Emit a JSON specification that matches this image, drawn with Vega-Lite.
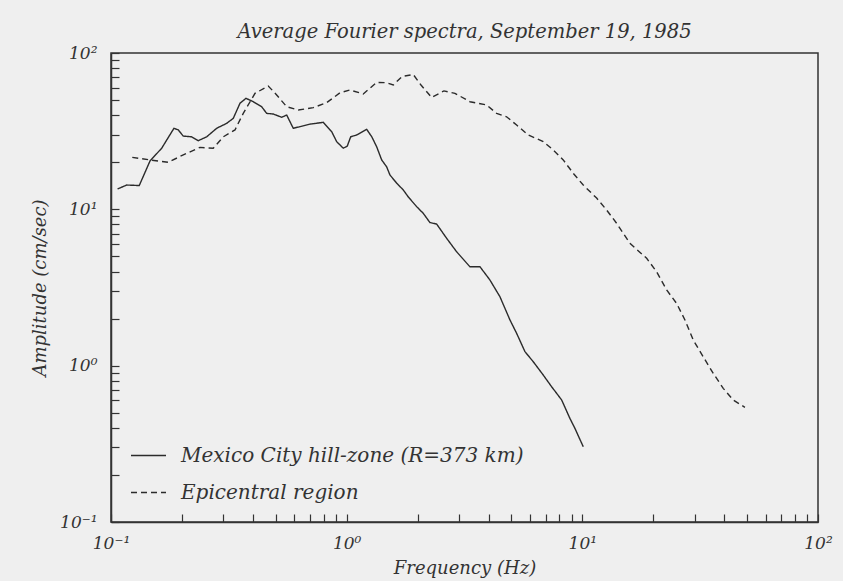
{
  "$schema": "https://vega.github.io/schema/vega-lite/v6.json",
  "width": 707,
  "height": 469,
  "autosize": {"type": "none"},
  "padding": {"left": 111, "top": 53, "right": 25, "bottom": 59},
  "background": "#efefef",
  "config": {
    "view": {"stroke": "#333333", "strokeWidth": 1.5},
    "font": "DejaVu Serif",
    "axis": {
      "grid": false,
      "domainColor": "#333333",
      "domainWidth": 1.5,
      "tickColor": "#333333",
      "tickWidth": 1.2,
      "tickSize": -8,
      "labelFont": "DejaVu Serif",
      "labelFontStyle": "italic",
      "labelFontSize": 17,
      "labelColor": "#333333",
      "labelOverlap": false,
      "labelFlush": false,
      "titleFont": "DejaVu Serif",
      "titleFontStyle": "italic",
      "titleFontWeight": "normal",
      "titleFontSize": 18,
      "titleColor": "#333333"
    }
  },
  "title": {
    "text": "Average Fourier spectra, September 19, 1985",
    "font": "DejaVu Serif",
    "fontStyle": "italic",
    "fontWeight": "normal",
    "fontSize": 19.5,
    "color": "#333333",
    "offset": 2
  },
  "data": {
    "values": [
      {"series": "Mexico City hill-zone (R=373 km)", "freq": 0.1066, "amp": 13.5},
      {"series": "Mexico City hill-zone (R=373 km)", "freq": 0.1166, "amp": 14.3},
      {"series": "Mexico City hill-zone (R=373 km)", "freq": 0.1318, "amp": 14.2},
      {"series": "Mexico City hill-zone (R=373 km)", "freq": 0.1464, "amp": 20.4},
      {"series": "Mexico City hill-zone (R=373 km)", "freq": 0.1641, "amp": 24.6},
      {"series": "Mexico City hill-zone (R=373 km)", "freq": 0.185, "amp": 33.0},
      {"series": "Mexico City hill-zone (R=373 km)", "freq": 0.193, "amp": 32.2},
      {"series": "Mexico City hill-zone (R=373 km)", "freq": 0.2026, "amp": 29.4},
      {"series": "Mexico City hill-zone (R=373 km)", "freq": 0.22, "amp": 29.1},
      {"series": "Mexico City hill-zone (R=373 km)", "freq": 0.2347, "amp": 27.5},
      {"series": "Mexico City hill-zone (R=373 km)", "freq": 0.2547, "amp": 29.1},
      {"series": "Mexico City hill-zone (R=373 km)", "freq": 0.2809, "amp": 33.0},
      {"series": "Mexico City hill-zone (R=373 km)", "freq": 0.3097, "amp": 35.5},
      {"series": "Mexico City hill-zone (R=373 km)", "freq": 0.3303, "amp": 38.2},
      {"series": "Mexico City hill-zone (R=373 km)", "freq": 0.3526, "amp": 47.7},
      {"series": "Mexico City hill-zone (R=373 km)", "freq": 0.3739, "amp": 51.3},
      {"series": "Mexico City hill-zone (R=373 km)", "freq": 0.4016, "amp": 48.8},
      {"series": "Mexico City hill-zone (R=373 km)", "freq": 0.4359, "amp": 45.3},
      {"series": "Mexico City hill-zone (R=373 km)", "freq": 0.4577, "amp": 41.1},
      {"series": "Mexico City hill-zone (R=373 km)", "freq": 0.4883, "amp": 40.7},
      {"series": "Mexico City hill-zone (R=373 km)", "freq": 0.53, "amp": 38.8},
      {"series": "Mexico City hill-zone (R=373 km)", "freq": 0.5566, "amp": 40.1},
      {"series": "Mexico City hill-zone (R=373 km)", "freq": 0.5934, "amp": 33.0},
      {"series": "Mexico City hill-zone (R=373 km)", "freq": 0.6337, "amp": 33.8},
      {"series": "Mexico City hill-zone (R=373 km)", "freq": 0.6987, "amp": 35.1},
      {"series": "Mexico City hill-zone (R=373 km)", "freq": 0.7957, "amp": 36.0},
      {"series": "Mexico City hill-zone (R=373 km)", "freq": 0.8637, "amp": 31.4},
      {"series": "Mexico City hill-zone (R=373 km)", "freq": 0.9071, "amp": 27.1},
      {"series": "Mexico City hill-zone (R=373 km)", "freq": 0.9674, "amp": 24.6},
      {"series": "Mexico City hill-zone (R=373 km)", "freq": 1.006, "amp": 25.4},
      {"series": "Mexico City hill-zone (R=373 km)", "freq": 1.04, "amp": 29.1},
      {"series": "Mexico City hill-zone (R=373 km)", "freq": 1.103, "amp": 29.9},
      {"series": "Mexico City hill-zone (R=373 km)", "freq": 1.216, "amp": 32.5},
      {"series": "Mexico City hill-zone (R=373 km)", "freq": 1.28, "amp": 29.0},
      {"series": "Mexico City hill-zone (R=373 km)", "freq": 1.341, "amp": 25.1},
      {"series": "Mexico City hill-zone (R=373 km)", "freq": 1.408, "amp": 20.7},
      {"series": "Mexico City hill-zone (R=373 km)", "freq": 1.478, "amp": 18.7},
      {"series": "Mexico City hill-zone (R=373 km)", "freq": 1.526, "amp": 16.6},
      {"series": "Mexico City hill-zone (R=373 km)", "freq": 1.63, "amp": 14.7},
      {"series": "Mexico City hill-zone (R=373 km)", "freq": 1.739, "amp": 13.3},
      {"series": "Mexico City hill-zone (R=373 km)", "freq": 1.826, "amp": 12.0},
      {"series": "Mexico City hill-zone (R=373 km)", "freq": 1.982, "amp": 10.4},
      {"series": "Mexico City hill-zone (R=373 km)", "freq": 2.113, "amp": 9.43},
      {"series": "Mexico City hill-zone (R=373 km)", "freq": 2.256, "amp": 8.23},
      {"series": "Mexico City hill-zone (R=373 km)", "freq": 2.409, "amp": 8.05},
      {"series": "Mexico City hill-zone (R=373 km)", "freq": 2.657, "amp": 6.52},
      {"series": "Mexico City hill-zone (R=373 km)", "freq": 2.929, "amp": 5.35},
      {"series": "Mexico City hill-zone (R=373 km)", "freq": 3.336, "amp": 4.29},
      {"series": "Mexico City hill-zone (R=373 km)", "freq": 3.679, "amp": 4.29},
      {"series": "Mexico City hill-zone (R=373 km)", "freq": 4.055, "amp": 3.53},
      {"series": "Mexico City hill-zone (R=373 km)", "freq": 4.471, "amp": 2.76},
      {"series": "Mexico City hill-zone (R=373 km)", "freq": 4.931, "amp": 1.96},
      {"series": "Mexico City hill-zone (R=373 km)", "freq": 5.263, "amp": 1.61},
      {"series": "Mexico City hill-zone (R=373 km)", "freq": 5.708, "amp": 1.23},
      {"series": "Mexico City hill-zone (R=373 km)", "freq": 6.19, "amp": 1.06},
      {"series": "Mexico City hill-zone (R=373 km)", "freq": 6.826, "amp": 0.871},
      {"series": "Mexico City hill-zone (R=373 km)", "freq": 7.41, "amp": 0.733},
      {"series": "Mexico City hill-zone (R=373 km)", "freq": 8.172, "amp": 0.603},
      {"series": "Mexico City hill-zone (R=373 km)", "freq": 8.857, "amp": 0.46},
      {"series": "Mexico City hill-zone (R=373 km)", "freq": 9.303, "amp": 0.397},
      {"series": "Mexico City hill-zone (R=373 km)", "freq": 10.09, "amp": 0.303},
      {"series": "Epicentral region", "freq": 0.1231, "amp": 21.5},
      {"series": "Epicentral region", "freq": 0.1464, "amp": 20.7},
      {"series": "Epicentral region", "freq": 0.175, "amp": 20.0},
      {"series": "Epicentral region", "freq": 0.2026, "amp": 22.3},
      {"series": "Epicentral region", "freq": 0.2385, "amp": 24.9},
      {"series": "Epicentral region", "freq": 0.2716, "amp": 24.6},
      {"series": "Epicentral region", "freq": 0.2996, "amp": 29.1},
      {"series": "Epicentral region", "freq": 0.3358, "amp": 32.2},
      {"series": "Epicentral region", "freq": 0.3641, "amp": 41.1},
      {"series": "Epicentral region", "freq": 0.4083, "amp": 55.2},
      {"series": "Epicentral region", "freq": 0.4649, "amp": 61.5},
      {"series": "Epicentral region", "freq": 0.5047, "amp": 53.9},
      {"series": "Epicentral region", "freq": 0.5566, "amp": 45.3},
      {"series": "Epicentral region", "freq": 0.6232, "amp": 43.2},
      {"series": "Epicentral region", "freq": 0.7216, "amp": 44.7},
      {"series": "Epicentral region", "freq": 0.8224, "amp": 48.1},
      {"series": "Epicentral region", "freq": 0.9367, "amp": 55.7},
      {"series": "Epicentral region", "freq": 1.033, "amp": 58.0},
      {"series": "Epicentral region", "freq": 1.176, "amp": 54.7},
      {"series": "Epicentral region", "freq": 1.341, "amp": 64.8},
      {"series": "Epicentral region", "freq": 1.478, "amp": 64.6},
      {"series": "Epicentral region", "freq": 1.577, "amp": 62.4},
      {"series": "Epicentral region", "freq": 1.717, "amp": 70.7},
      {"series": "Epicentral region", "freq": 1.917, "amp": 72.9},
      {"series": "Epicentral region", "freq": 2.067, "amp": 62.4},
      {"series": "Epicentral region", "freq": 2.294, "amp": 51.9},
      {"series": "Epicentral region", "freq": 2.587, "amp": 57.2},
      {"series": "Epicentral region", "freq": 2.881, "amp": 55.2},
      {"series": "Epicentral region", "freq": 3.336, "amp": 48.8},
      {"series": "Epicentral region", "freq": 3.926, "amp": 46.5},
      {"series": "Epicentral region", "freq": 4.329, "amp": 41.1},
      {"series": "Epicentral region", "freq": 4.772, "amp": 39.1},
      {"series": "Epicentral region", "freq": 5.263, "amp": 34.6},
      {"series": "Epicentral region", "freq": 5.895, "amp": 29.9},
      {"series": "Epicentral region", "freq": 6.826, "amp": 27.1},
      {"series": "Epicentral region", "freq": 7.524, "amp": 24.0},
      {"series": "Epicentral region", "freq": 8.299, "amp": 20.7},
      {"series": "Epicentral region", "freq": 9.151, "amp": 17.0},
      {"series": "Epicentral region", "freq": 10.09, "amp": 14.3},
      {"series": "Epicentral region", "freq": 11.5, "amp": 11.8},
      {"series": "Epicentral region", "freq": 12.68, "amp": 9.9},
      {"series": "Epicentral region", "freq": 13.98, "amp": 8.14},
      {"series": "Epicentral region", "freq": 15.92, "amp": 6.06},
      {"series": "Epicentral region", "freq": 18.75, "amp": 4.86},
      {"series": "Epicentral region", "freq": 20.66, "amp": 3.99},
      {"series": "Epicentral region", "freq": 22.79, "amp": 3.05},
      {"series": "Epicentral region", "freq": 25.13, "amp": 2.5},
      {"series": "Epicentral region", "freq": 27.25, "amp": 1.96},
      {"series": "Epicentral region", "freq": 29.55, "amp": 1.46},
      {"series": "Epicentral region", "freq": 32.58, "amp": 1.14},
      {"series": "Epicentral region", "freq": 35.93, "amp": 0.893},
      {"series": "Epicentral region", "freq": 39.62, "amp": 0.716},
      {"series": "Epicentral region", "freq": 43.69, "amp": 0.603},
      {"series": "Epicentral region", "freq": 48.97, "amp": 0.541}
    ]
  },
  "mark": {"type": "line", "strokeWidth": 1.4, "color": "#2b2b2b", "clip": true},
  "encoding": {
    "x": {
      "field": "freq",
      "type": "quantitative",
      "scale": {"type": "log", "domain": [0.1, 100], "nice": false},
      "axis": {
        "title": "Frequency (Hz)",
        "values": [0.1, 0.2, 0.3, 0.4, 0.5, 0.6, 0.7, 0.8, 0.9, 1, 2, 3, 4, 5, 6, 7, 8, 9, 10, 20, 30, 40, 50, 60, 70, 80, 90, 100],
        "labelExpr": "datum.value == 0.1 ? '10⁻¹' : datum.value == 1 ? '10⁰' : datum.value == 10 ? '10¹' : datum.value == 100 ? '10²' : ''",
        "labelPadding": 21,
        "titlePadding": 8
      }
    },
    "y": {
      "field": "amp",
      "type": "quantitative",
      "scale": {"type": "log", "domain": [0.1, 100], "nice": false},
      "axis": {
        "title": "Amplitude (cm/sec)",
        "values": [0.1, 0.2, 0.3, 0.4, 0.5, 0.6, 0.7, 0.8, 0.9, 1, 2, 3, 4, 5, 6, 7, 8, 9, 10, 20, 30, 40, 50, 60, 70, 80, 90, 100],
        "labelExpr": "datum.value == 0.1 ? '10⁻¹' : datum.value == 1 ? '10⁰' : datum.value == 10 ? '10¹' : datum.value == 100 ? '10²' : ''",
        "labelPadding": 22,
        "titlePadding": 10
      }
    },
    "strokeDash": {
      "field": "series",
      "type": "nominal",
      "scale": {"domain": ["Mexico City hill-zone (R=373 km)", "Epicentral region"], "range": [[1, 0], [6, 4]]},
      "legend": {
        "orient": "none",
        "legendX": 19,
        "legendY": 384,
        "title": null,
        "padding": 0,
        "symbolType": "stroke",
        "symbolSize": 1225,
        "symbolStrokeWidth": 1.4,
        "symbolStrokeColor": "#2b2b2b",
        "labelFont": "DejaVu Serif",
        "labelFontStyle": "italic",
        "labelFontSize": 20,
        "labelColor": "#333333",
        "labelOffset": 14,
        "labelLimit": 500,
        "rowPadding": 8
      }
    }
  }
}
